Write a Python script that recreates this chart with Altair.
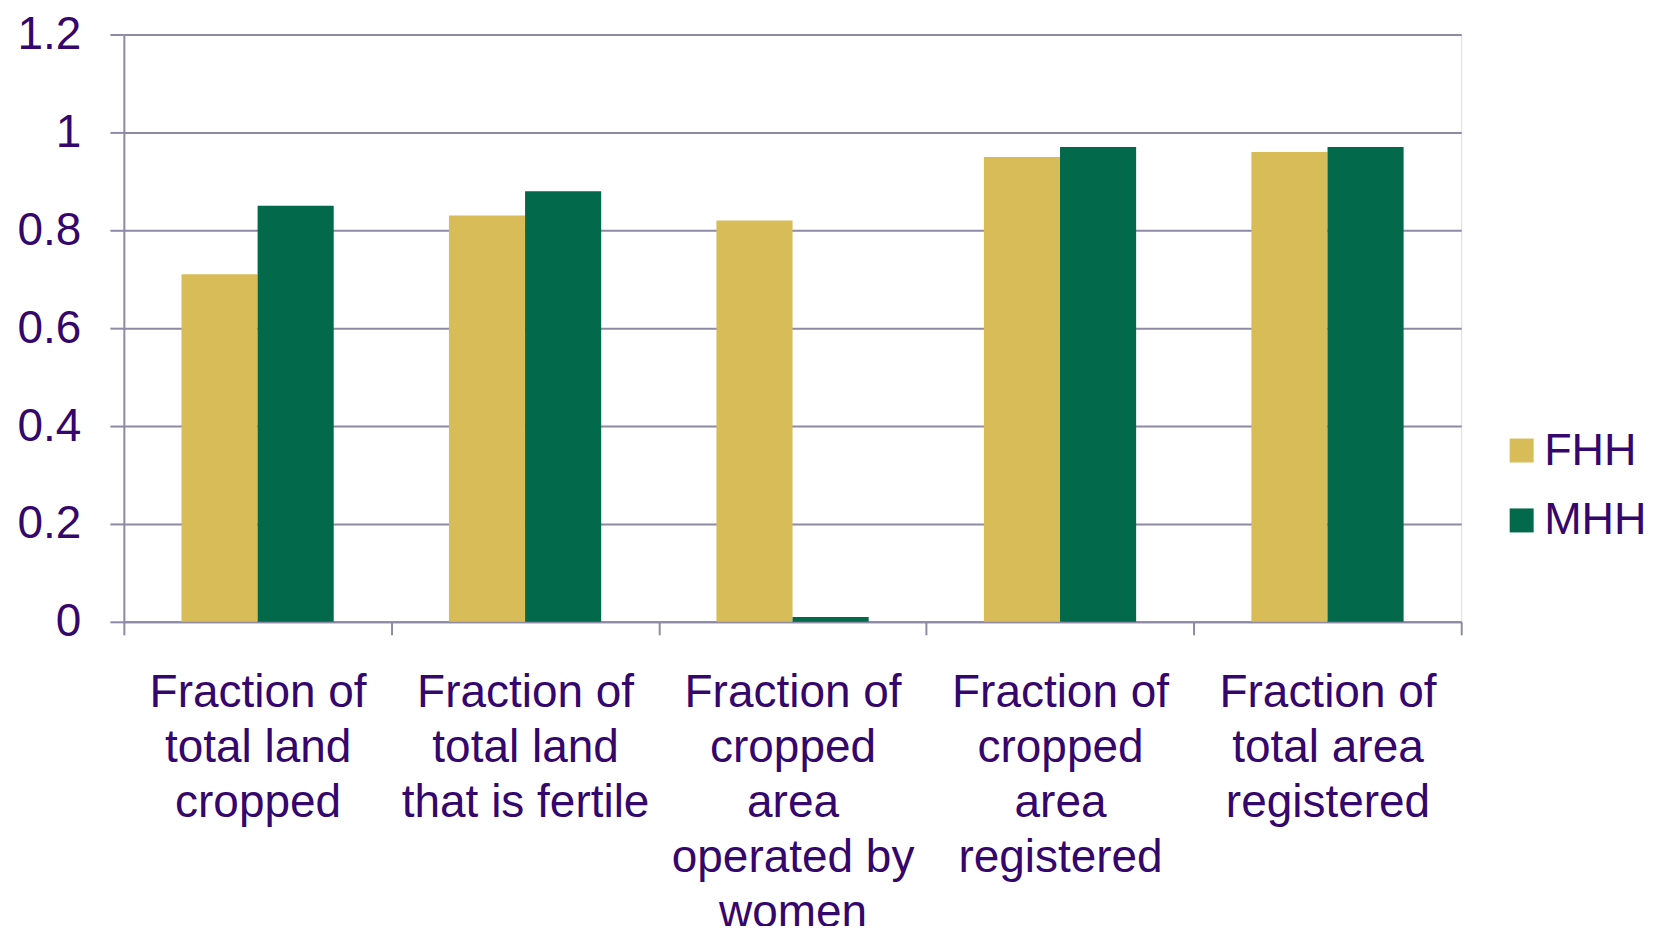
import altair as alt
import pandas as pd

categories = [
    "Fraction of\ntotal land\ncropped",
    "Fraction of\ntotal land\nthat is fertile",
    "Fraction of\ncropped\narea\noperated by\nwomen",
    "Fraction of\ncropped\narea\nregistered",
    "Fraction of\ntotal area\nregistered",
]
series = ["FHH", "MHH"]
fhh = [0.71, 0.83, 0.82, 0.95, 0.96]
mhh = [0.85, 0.88, 0.01, 0.97, 0.97]
colors = ["#D8BC58", "#02694A"]
y_ticks = [0, 0.2, 0.4, 0.6, 0.8, 1.0, 1.2]

rows = []
for c, a, b in zip(categories, fhh, mhh):
    rows.append({"cat": c, "series": "FHH", "value": a})
    rows.append({"cat": c, "series": "MHH", "value": b})
df = pd.DataFrame(rows)

TXT = "#35066B"
GRID = "#8E8AA5"
FONT = "Liberation Sans"

chart = alt.Chart(df).mark_bar().encode(
    x=alt.X("cat:N", sort=categories, title=None,
            scale=alt.Scale(paddingInner=0, paddingOuter=0),
            axis=alt.Axis(labelAngle=0, tickBand="extent", labelExpr="split(datum.label, '\\n')",
                          labelFontSize=46, labelLineHeight=55, labelColor=TXT, labelFont=FONT,
                          labelLimit=0, labelPadding=36, tickSize=13, tickColor=GRID, tickWidth=2,
                          domainColor=GRID, domainWidth=2, grid=False, labelBaseline="top")),
    xOffset=alt.XOffset("series:N", sort=series,
                        scale=alt.Scale(paddingInner=0, paddingOuter=0.757)),
    y=alt.Y("value:Q", title=None,
            scale=alt.Scale(domain=[0, 1.2], nice=False),
            axis=alt.Axis(values=y_ticks, format=".1~f", labelFontSize=46, labelColor=TXT,
                          labelFont=FONT, labelPadding=29, tickSize=14, tickColor=GRID,
                          tickWidth=2, domainColor=GRID, domainWidth=2, gridColor=GRID,
                          gridWidth=2, gridOpacity=1)),
    color=alt.Color("series:N", sort=series, title=None,
                    scale=alt.Scale(domain=series, range=colors),
                    legend=alt.Legend(orient="none", legendX=1377, legendY=394,
                                      symbolType="square", symbolSize=576, symbolStrokeWidth=0,
                                      symbolOpacity=1, labelFontSize=45, labelColor=TXT,
                                      labelFont=FONT, labelOffset=0, rowPadding=24, labelLimit=0)),
).properties(
    width=1339, height=588,
    autosize=alt.AutoSizeParams(type="none"),
    padding={"left": 116, "top": 26, "right": 190, "bottom": 304},
).configure_view(strokeWidth=0, stroke="transparent").configure(background="white")

chart.save("out.html", embed_options={"renderer": "svg", "actions": False})
